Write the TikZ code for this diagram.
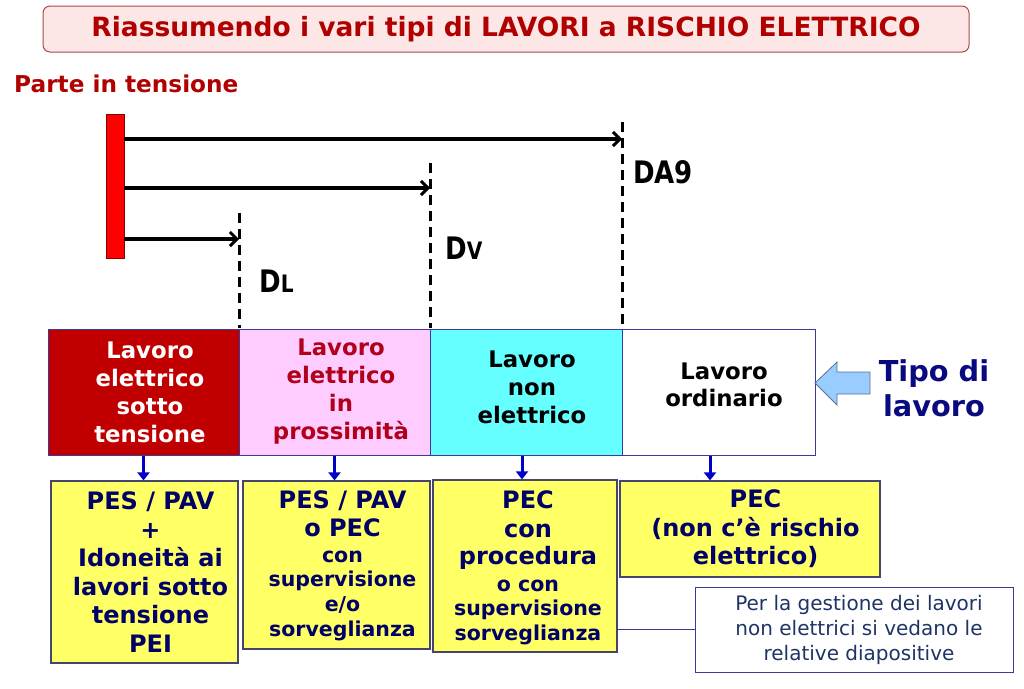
\documentclass[tikz,border=0pt]{standalone}
\usepackage{fontspec}
\setmainfont{DejaVu Sans}
\newfontfamily\condfont[FakeStretch=0.84]{DejaVu Sans}
\usetikzlibrary{arrows.meta}
\definecolor{titlered}{HTML}{B00000}
\definecolor{titlefill}{HTML}{FDE6E6}
\definecolor{titleborder}{HTML}{A84848}
\definecolor{darkbox}{HTML}{C00000}
\definecolor{pinktext}{HTML}{B0001A}
\definecolor{pinkbox}{HTML}{FFCCFF}
\definecolor{cyanbox}{HTML}{66FFFF}
\definecolor{yelbox}{HTML}{FFFF66}
\definecolor{rowborder}{HTML}{3A3A9A}
\definecolor{yelborder}{HTML}{45456E}
\definecolor{navytext}{HTML}{000066}
\definecolor{tipoblue}{HTML}{0A0A80}
\definecolor{arrblue}{HTML}{0000C8}
\definecolor{notetext}{HTML}{1F3466}
\definecolor{blockfill}{HTML}{99CCFF}
\definecolor{blockdraw}{HTML}{5A6E96}
\tikzset{
  rowbox/.style={draw=rowborder, line width=1pt, inner sep=0pt, minimum height=126pt},
  rowtext/.style={inner sep=0pt, align=center, font=\bfseries\fontsize{22.8}{28}\selectfont},
  yelbox/.style={draw=yelborder, fill=yelbox, line width=1.2pt, inner sep=0pt},
  yeltext/.style={inner sep=0pt, align=center, text=navytext, font=\bfseries\fontsize{24}{28.5}\selectfont},
  bluearr/.style={draw=arrblue, line width=3pt, -{Triangle[length=8pt,width=12pt]}},
  blackarr/.style={draw=black, line width=3.6pt, -{Straight Barb[length=7pt,width=14pt,line width=3pt]}},
  dashline/.style={draw=black, line width=3pt, dash pattern=on 10pt off 6pt},
  dlabel/.style={anchor=west, inner sep=0pt, font=\condfont\bfseries\fontsize{31}{34}\selectfont},
}
\newcommand{\smallline}[1]{{\fontsize{20.5}{24}\selectfont #1}}
\begin{document}
\begin{tikzpicture}[x=1pt,y=-1pt]
\useasboundingbox (0,0) rectangle (1024,688);
% title
\node[draw=titleborder, fill=titlefill, rounded corners=7pt, line width=1pt, minimum width=926pt, minimum height=46pt, text=titlered, font=\bfseries\fontsize{26.5}{30}\selectfont] (title) at (506,29) {Riassumendo i vari tipi di LAVORI a RISCHIO ELETTRICO};
\node[anchor=west, inner sep=0pt, text=titlered, font=\bfseries\fontsize{23.2}{26}\selectfont] (parte) at (14,84) {Parte in tensione};
% live part bar
\node[draw=darkbox!70!black, fill=red, line width=0.8pt, minimum width=18pt, minimum height=144pt, inner sep=0pt] (bar) at (115,186) {};
% distance limit lines
\coordinate (dltop) at (239,213); \coordinate (dlbot) at (239,328);
\coordinate (dvtop) at (430,163); \coordinate (dvbot) at (430,328);
\coordinate (datop) at (622,122); \coordinate (dabot) at (622,328);
\draw[dashline] (dltop) -- (dlbot);
\draw[dashline] (dvtop) -- (dvbot);
\draw[dashline] (datop) -- (dabot);
\coordinate (s1) at (bar.east |- 0,139);
\coordinate (s2) at (bar.east |- 0,188);
\coordinate (s3) at (bar.east |- 0,239);
\draw[blackarr] (s1) -- (s1 -| datop);
\draw[blackarr] (s2) -- (s2 -| dvtop);
\draw[blackarr] (s3) -- (s3 -| dltop);
\node[dlabel] (lda) at (633,172) {DA9};
\node[dlabel] (ldv) at (445,248) {D{\fontsize{24}{26}\selectfont V}};
\node[dlabel] (ldl) at (259,281) {D{\fontsize{24}{26}\selectfont L}};
% type of work row
\node[rowbox, fill=darkbox, minimum width=191pt] (r1) at (143.5,392) {};
\node[rowtext, text=white] (r1t) at (150,392) {Lavoro\\elettrico\\sotto\\tensione};
\node[rowbox, fill=pinkbox, minimum width=191pt] (r2) at (334.5,392) {};
\node[rowtext, text=pinktext] (r2t) at (341,392) {Lavoro\\elettrico\\in\\prossimità};
\node[rowbox, fill=cyanbox, minimum width=192pt] (r3) at (526,392) {};
\node[rowtext, text=black] (r3t) at (532,387) {Lavoro\\non\\elettrico};
\node[rowbox, fill=white, minimum width=193pt] (r4) at (718.5,392) {};
\node[rowtext, text=black, font=\bfseries\fontsize{22.8}{26.5}\selectfont] (r4t) at (724,385) {Lavoro\\ordinario};
% block arrow
\draw[fill=blockfill, draw=blockdraw, line width=0.8pt] (815,383) -- (837,362) -- (837,372) -- (870,372) -- (870,394) -- (837,394) -- (837,405) -- cycle;
\node[text=tipoblue, align=center, inner sep=0pt, font=\bfseries\fontsize{28.8}{35}\selectfont] (tipo) at (934,388) {Tipo di\\lavoro};
% requirement boxes
\node[yelbox, minimum width=187pt, minimum height=182pt] (y1) at (144.5,572) {};
\node[yeltext] (y1t) at (150.5,572) {PES / PAV\\+\\Idoneità ai\\lavori sotto\\tensione\\PEI};
\node[yelbox, minimum width=187pt, minimum height=168pt] (y2) at (336.5,565) {};
\node[yeltext] (y2t) at (342.5,566) {PES / PAV\\o PEC\\[-3pt]\smallline{con}\\[-4pt]\smallline{supervisione}\\[-4pt]\smallline{e/o}\\[-3pt]\smallline{sorveglianza}};
\node[yelbox, minimum width=184pt, minimum height=172pt] (y3) at (525,566) {};
\node[yeltext] (y3t) at (528,568) {PEC\\con\\[-1pt]procedura\\[-2pt]\smallline{o con}\\[-4pt]\smallline{supervisione}\\[-4pt]\smallline{sorveglianza}};
\node[yelbox, minimum width=260pt, minimum height=96pt] (y4) at (750,529) {};
\node[yeltext] (y4t) at (755.5,529) {PEC\\(non c’è rischio\\elettrico)};
\node[draw=rowborder, fill=white, line width=1pt, minimum width=318pt, minimum height=85pt, inner sep=0pt] (note) at (854,629.5) {};
\node[inner sep=0pt, align=center, text=notetext, font=\fontsize{20}{25}\selectfont] (notet) at (859,630) {Per la gestione dei lavori\\non elettrici si vedano le\\relative diapositive};
\draw[draw=rowborder, line width=1pt] (note.west -| y3.east) -- (note.west);
% arrows down
\draw[bluearr] (r1.south) -- (r1.south |- y1.north);
\draw[bluearr] (r2.south) -- (r2.south |- y2.north);
\draw[bluearr] ([xshift=-4pt]r3.south) -- ([xshift=-4pt]r3.south |- y3.north);
\draw[bluearr] ([xshift=-8.5pt]r4.south) -- ([xshift=-8.5pt]r4.south |- y4.north);
\end{tikzpicture}
\end{document}
